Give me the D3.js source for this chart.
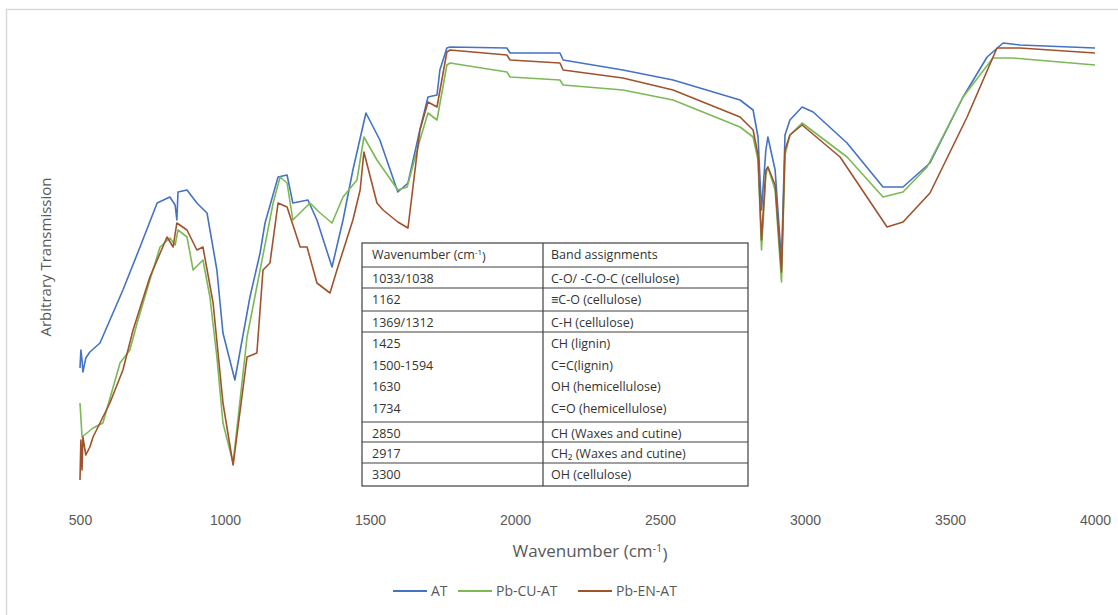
<!DOCTYPE html>
<html>
<head>
<meta charset="utf-8">
<script src="https://cdn.jsdelivr.net/npm/d3@7"></script>
<style>
  body { margin: 0; background: #fff; }
  svg { font-family: "Open Sans", "Noto Sans", sans-serif; }
</style>
</head>
<body>
<div id="chart"></div>
<script>
// data: [wavenumber, arbitrary transmission]
const seriesNames = ["AT", "Pb-CU-AT", "Pb-EN-AT"];
const seriesColors = ["#4472C4", "#7CB955", "#A0522D"];

const atData = [
  [500, 26.4], [503, 30], [507, 28], [510, 25.6], [520, 28.4], [534, 29.6], [569, 31.4], [648, 42], [707, 50.6],
  [766, 59.4], [810, 60.6], [828, 59], [834, 56], [838, 61.6], [869, 62], [903, 59.4],
  [938, 57.4], [972, 46], [993, 33.4], [1034, 24], [1086, 40.6], [1121, 49.4], [1138, 55.4],
  [1183, 64.6], [1214, 65], [1234, 59.4], [1286, 60], [1317, 56], [1369, 46.6], [1407, 56],
  [1441, 66], [1486, 77.4], [1534, 72], [1596, 61.6], [1631, 63.4], [1672, 74], [1700, 80.6],
  [1731, 81], [1741, 86], [1765, 90.4], [1776, 90.6], [1972, 90.4], [1983, 89.4], [2155, 89.4],
  [2166, 88], [2372, 86], [2545, 84], [2776, 80], [2821, 78], [2838, 72.6], [2850, 58],
  [2865, 70], [2872, 72.6], [2897, 66], [2919, 47.6], [2931, 73], [2948, 76], [2990, 78.6],
  [3028, 77.6], [3145, 71.4], [3269, 62.6], [3338, 62.6], [3431, 67.4], [3545, 80.6],
  [3628, 88.6], [3683, 91.4], [3741, 91], [4000, 90.4]
];

const pbCuData = [
  [500, 19.4], [507, 12.6], [545, 14.4], [579, 15.4], [638, 27.4], [672, 30], [697, 35.4],
  [741, 44], [776, 50.6], [810, 52.4], [828, 51], [838, 54], [869, 52.6], [890, 46], [924, 48],
  [948, 40.6], [972, 28.6], [993, 15.4], [1028, 7.4], [1076, 32.6], [1121, 46], [1166, 59.4],
  [1190, 64.6], [1214, 63.4], [1234, 56], [1293, 59.4], [1328, 57.4], [1369, 55.4],
  [1407, 60.6], [1455, 64], [1479, 72.6], [1524, 68], [1596, 62], [1628, 62.6], [1672, 72],
  [1700, 77.4], [1731, 76], [1765, 87], [1776, 87.4], [1972, 85.6], [1983, 84.6], [2155, 84],
  [2166, 83], [2372, 82], [2545, 80], [2776, 74.6], [2821, 72.6], [2838, 68], [2850, 50],
  [2865, 65], [2872, 66.6], [2897, 62], [2919, 43.6], [2931, 69], [2948, 73], [2990, 75.4],
  [3145, 68.6], [3269, 60.6], [3338, 61.6], [3421, 66.6], [3545, 80.6], [3648, 88.4],
  [3717, 88.4], [4000, 87]
];

const pbEnData = [
  [500, 4], [503, 12], [507, 6], [510, 12.6], [520, 9], [534, 10.6], [545, 12.6], [603, 19.4],
  [648, 26], [683, 34], [741, 44.6], [800, 52.6], [821, 50.6], [834, 55.4], [869, 54],
  [903, 50], [924, 50.6], [959, 39.4], [993, 19.4], [1028, 7], [1076, 28.6], [1110, 29.4],
  [1131, 46], [1155, 47.4], [1183, 59.4], [1214, 58.6], [1259, 50.6], [1283, 50.6],
  [1317, 43.4], [1362, 41.4], [1386, 46], [1441, 56], [1466, 62], [1479, 69.6], [1524, 59.4],
  [1545, 58], [1596, 55.6], [1631, 54.4], [1672, 74], [1700, 79.6], [1731, 78.6], [1765, 89.6],
  [1776, 90], [1972, 89], [1983, 88], [2155, 87.4], [2166, 86], [2372, 84.4], [2545, 82],
  [2776, 76.6], [2821, 74], [2838, 69], [2850, 52], [2865, 66], [2872, 66.6], [2897, 63],
  [2919, 45.6], [2931, 70], [2948, 73], [2990, 75], [3121, 68.6], [3283, 54.6], [3338, 55.6],
  [3431, 61.4], [3559, 76.6], [3662, 90.4], [3741, 90.4], [4000, 89.4]
];

const xTicks = [500, 1000, 1500, 2000, 2500, 3000, 3500, 4000];

// band assignment table
const tableGroups = [
  [["Wavenumber (cm", "Band assignments"]],
  [["1033/1038", "C-O/ -C-O-C (cellulose)"]],
  [["1162", "≡C-O (cellulose)"]],
  [["1369/1312", "C-H (cellulose)"]],
  [["1425", "CH (lignin)"], ["1500-1594", "C=C(lignin)"], ["1630", "OH (hemicellulose)"], ["1734", "C=O (hemicellulose)"]],
  [["2850", "CH (Waxes and cutine)"]],
  [["2917", "CH₂ (Waxes and cutine)"]],
  [["3300", "OH (cellulose)"]]
];

const width = 1118;
const height = 615;
const textColor = "#595959";

const svg = d3.select("#chart")
  .append("svg")
  .attr("width", width)
  .attr("height", height);

// outer chart border
svg.append("rect")
  .attr("x", 6.5)
  .attr("y", 9.5)
  .attr("width", width)
  .attr("height", height)
  .attr("fill", "#fff")
  .attr("stroke", "#d9d9d9")
  .attr("stroke-width", 1.5);

// scales
const xScale = d3.scaleLinear()
  .domain([500, 4000])
  .range([80, 1095]);

const yScale = d3.scaleLinear()
  .domain([0, 100])
  .range([500, 0]);

// x axis: labels only
const xAxis = d3.axisBottom(xScale)
  .tickValues(xTicks)
  .tickFormat(d3.format("d"))
  .tickSize(0)
  .tickPadding(0);

const xAxisG = svg.append("g")
  .attr("transform", "translate(0, 512)")
  .call(xAxis);
xAxisG.select(".domain").remove();
xAxisG.selectAll("text")
  .attr("fill", textColor)
  .style("font-size", "14px")
  .attr("dy", "0.9em");

// lines
const line = d3.line()
  .x(d => xScale(d[0]))
  .y(d => yScale(d[1]));

const allSeries = [atData, pbCuData, pbEnData];

svg.append("g")
  .selectAll("path")
  .data(allSeries)
  .join("path")
  .attr("d", d => line(d))
  .attr("fill", "none")
  .attr("stroke", (d, i) => seriesColors[i])
  .attr("stroke-width", 1.6)
  .attr("stroke-linejoin", "round");

// axis titles
const xTitle = svg.append("text")
  .attr("x", 590)
  .attr("y", 557)
  .attr("text-anchor", "middle")
  .attr("fill", textColor)
  .style("font-size", "17px")
  .text("Wavenumber (cm");
xTitle.append("tspan")
  .attr("dy", "-0.45em")
  .style("font-size", "11px")
  .text("-1");
xTitle.append("tspan")
  .attr("dy", "0.45em")
  .text(")");

svg.append("text")
  .attr("transform", "translate(51, 257) rotate(-90)")
  .attr("text-anchor", "middle")
  .attr("fill", textColor)
  .style("font-size", "15px")
  .text("Arbitrary Transmission");

// table
const table = svg.append("g").attr("class", "band-table");
const tLeft = 362, tRight = 748, tMid = 543;
const lineYs = [243, 267, 288, 311, 332, 422, 442, 463, 486];
const rowStep = 21.5;

table.append("rect")
  .attr("x", tLeft)
  .attr("y", lineYs[0])
  .attr("width", tRight - tLeft)
  .attr("height", lineYs[lineYs.length - 1] - lineYs[0])
  .attr("fill", "#fff")
  .attr("stroke", "#404040")
  .attr("stroke-width", 1.2);

table.append("line")
  .attr("x1", tMid).attr("x2", tMid)
  .attr("y1", lineYs[0]).attr("y2", lineYs[lineYs.length - 1])
  .attr("stroke", "#404040")
  .attr("stroke-width", 1.2);

table.selectAll("line.row")
  .data(lineYs.slice(1, -1))
  .join("line")
  .attr("class", "row")
  .attr("x1", tLeft).attr("x2", tRight)
  .attr("y1", d => d).attr("y2", d => d)
  .attr("stroke", "#404040")
  .attr("stroke-width", 1.2);

tableGroups.forEach((group, gi) => {
  const top = lineYs[gi];
  group.forEach((row, ri) => {
    const y = top + 16 + ri * rowStep;
    const left = table.append("text")
      .attr("x", 372)
      .attr("y", y)
      .attr("fill", "#333")
      .style("font-size", "12.5px")
      .text(row[0]);
    if (gi === 0) {
      left.append("tspan").attr("dy", "-0.45em").style("font-size", "8px").text("-1");
      left.append("tspan").attr("dy", "0.45em").text(")");
    }
    table.append("text")
      .attr("x", 551)
      .attr("y", y)
      .attr("fill", "#333")
      .style("font-size", "12.5px")
      .text(row[1]);
  });
});

// legend
const legendX = [393, 458, 578];
const legend = svg.append("g").attr("class", "legend");

legend.selectAll("line")
  .data(seriesNames)
  .join("line")
  .attr("x1", (d, i) => legendX[i])
  .attr("x2", (d, i) => legendX[i] + 34)
  .attr("y1", 591)
  .attr("y2", 591)
  .attr("stroke", (d, i) => seriesColors[i])
  .attr("stroke-width", 2);

legend.selectAll("text")
  .data(seriesNames)
  .join("text")
  .attr("x", (d, i) => legendX[i] + 38)
  .attr("y", 596)
  .attr("fill", textColor)
  .style("font-size", "14px")
  .text(d => d);
</script>
</body>
</html>
